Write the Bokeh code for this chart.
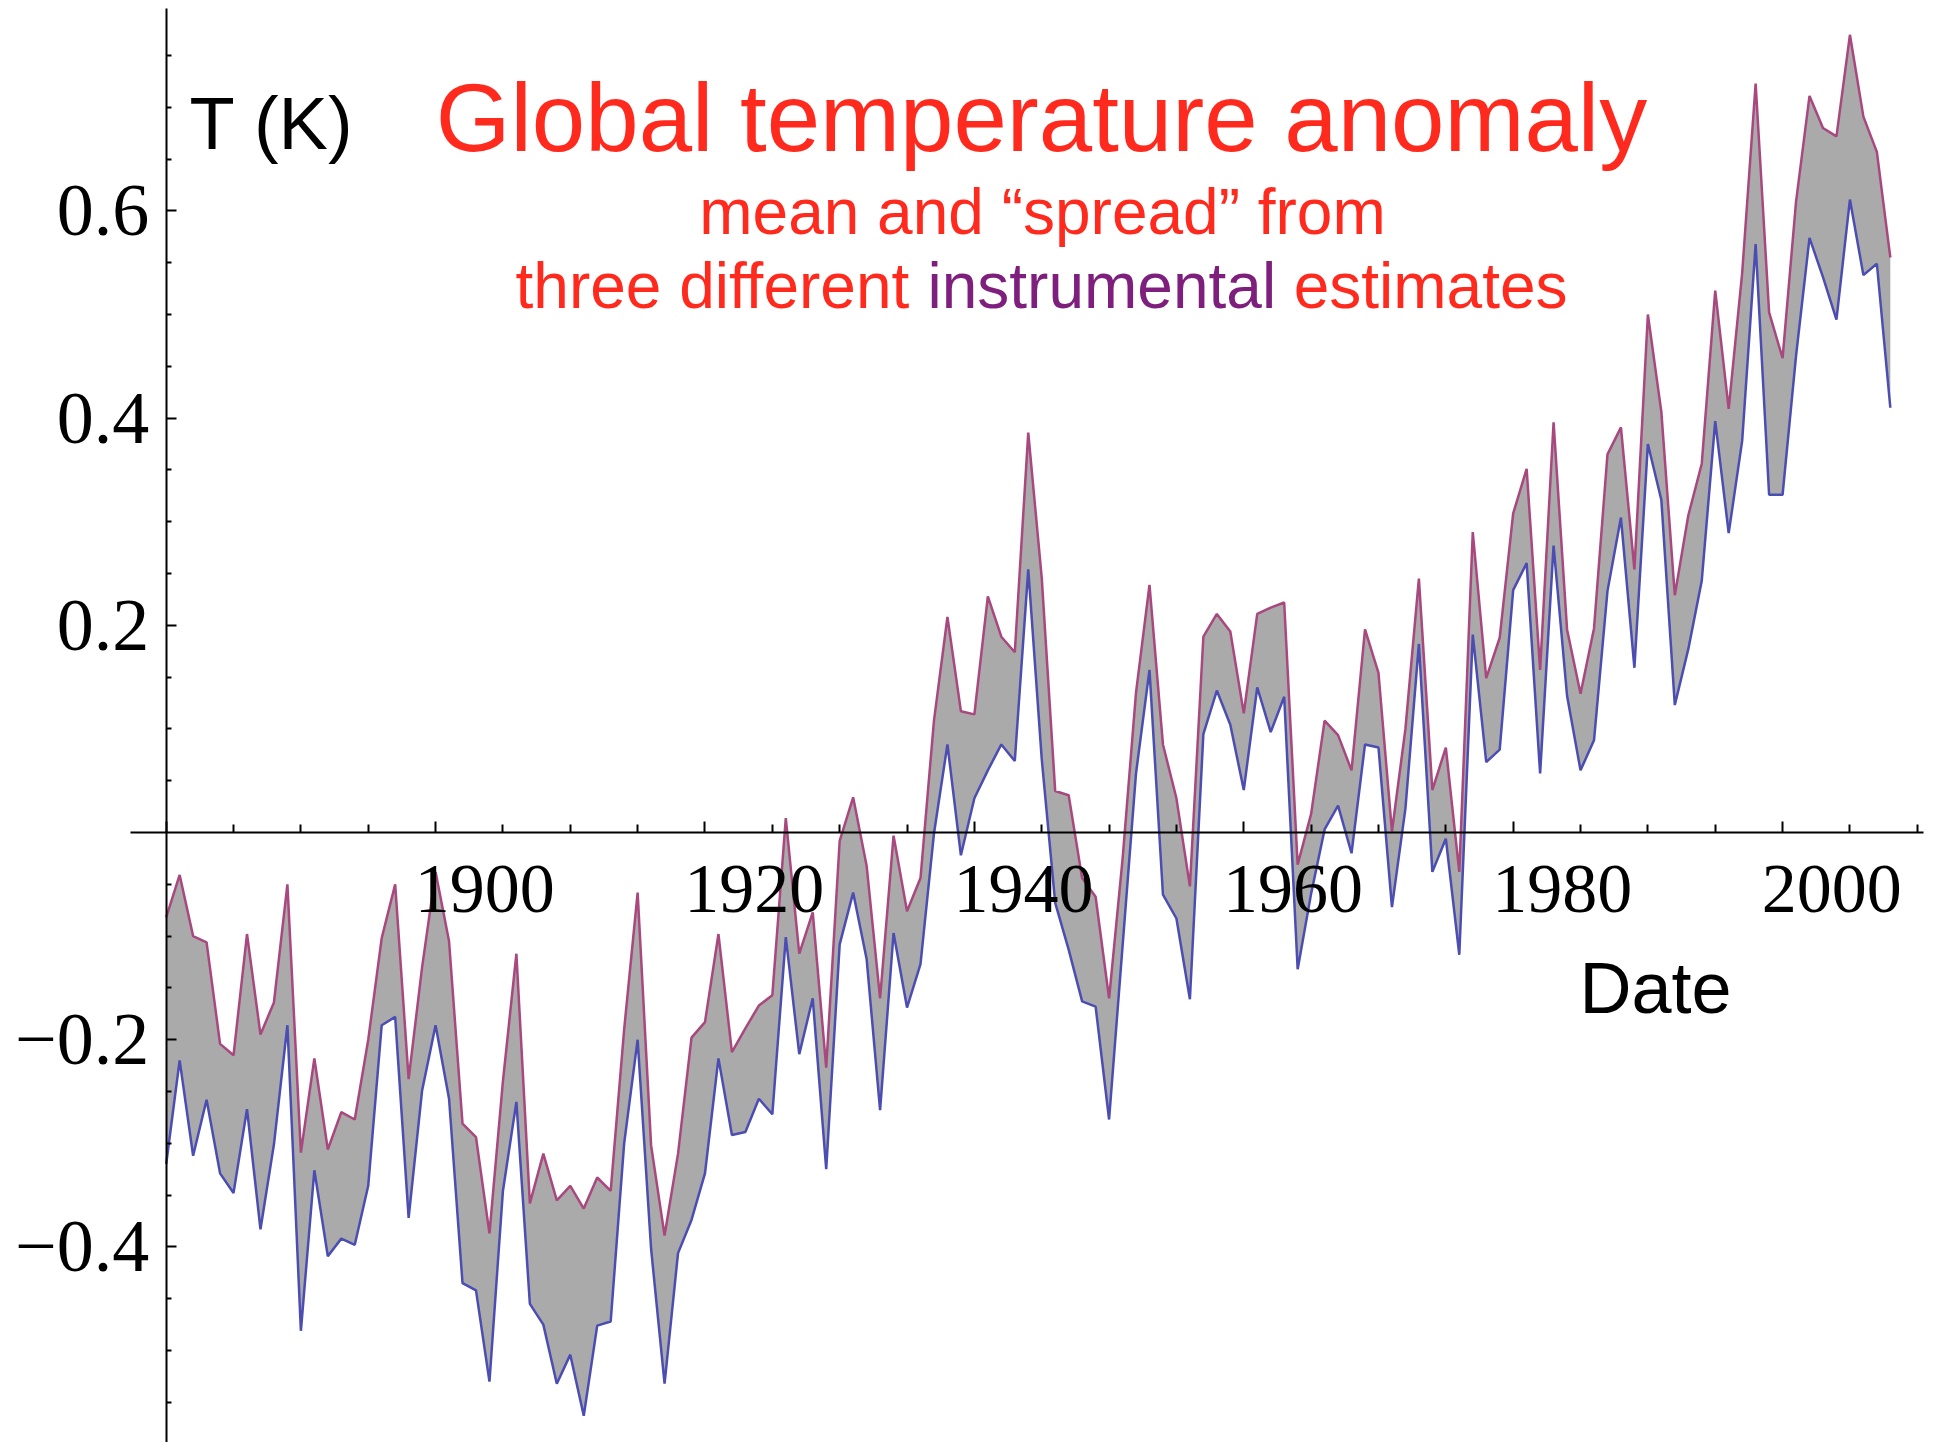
from bokeh.plotting import figure
from bokeh.models import (LinearAxis, FixedTicker, Range1d, Label,
                          CustomJSTickFormatter, ColumnDataSource)
from bokeh.embed import file_html
from bokeh.resources import INLINE

# ---------------- data ----------------
years = list(range(1880, 2009))

upper = [
    -0.082, -0.041, -0.100, -0.106, -0.204, -0.215, -0.098, -0.195, -0.164, -0.050,   # 1880s
    -0.309, -0.218, -0.306, -0.270, -0.277, -0.200, -0.102, -0.050, -0.238, -0.130,   # 1890s
    -0.038, -0.105, -0.281, -0.294, -0.387, -0.240, -0.117, -0.358, -0.310, -0.355,   # 1900s
    -0.341, -0.363, -0.333, -0.346, -0.190, -0.058, -0.302, -0.389, -0.310, -0.198,   # 1910s
    -0.183, -0.098, -0.212, -0.189, -0.167, -0.157, 0.014, -0.117, -0.077, -0.227,    # 1920s
    -0.008, 0.034, -0.032, -0.160, -0.003, -0.076, -0.044, 0.108, 0.208, 0.117,       # 1930s
    0.114, 0.228, 0.189, 0.174, 0.386, 0.246, 0.040, 0.036, -0.044, -0.062,           # 1940s
    -0.160, -0.026, 0.135, 0.239, 0.085, 0.033, -0.052, 0.189, 0.211, 0.194,          # 1950s
    0.115, 0.211, 0.217, 0.222, -0.031, 0.018, 0.108, 0.094, 0.060, 0.196,            # 1960s
    0.154, 0.001, 0.100, 0.245, 0.041, 0.082, -0.038, 0.290, 0.149, 0.188,            # 1970s
    0.308, 0.351, 0.157, 0.396, 0.196, 0.134, 0.197, 0.365, 0.391, 0.254,             # 1980s
    0.500, 0.406, 0.229, 0.306, 0.356, 0.523, 0.409, 0.540, 0.723, 0.502,             # 1990s
    0.458, 0.609, 0.711, 0.680, 0.672, 0.770, 0.691, 0.657, 0.555,                    # 2000s
]

lower = [
    -0.320, -0.220, -0.312, -0.258, -0.329, -0.348, -0.267, -0.383, -0.301, -0.186,
    -0.481, -0.326, -0.409, -0.392, -0.398, -0.341, -0.186, -0.178, -0.372, -0.249,
    -0.186, -0.257, -0.435, -0.442, -0.530, -0.346, -0.260, -0.455, -0.475, -0.532,
    -0.504, -0.563, -0.476, -0.472, -0.300, -0.200, -0.402, -0.532, -0.406, -0.374,
    -0.329, -0.218, -0.292, -0.289, -0.257, -0.272, -0.101, -0.214, -0.160, -0.325,
    -0.108, -0.058, -0.122, -0.268, -0.097, -0.169, -0.127, -0.001, 0.085, -0.022,
    0.033, 0.060, 0.085, 0.069, 0.254, 0.071, -0.068, -0.113, -0.163, -0.168,
    -0.277, -0.110, 0.057, 0.157, -0.060, -0.083, -0.161, 0.095, 0.137, 0.104,
    0.041, 0.140, 0.097, 0.131, -0.132, -0.059, 0.003, 0.026, -0.020, 0.085,
    0.082, -0.072, 0.023, 0.182, -0.038, -0.006, -0.118, 0.191, 0.068, 0.080,
    0.234, 0.260, 0.057, 0.277, 0.132, 0.060, 0.089, 0.233, 0.304, 0.159,
    0.375, 0.321, 0.123, 0.177, 0.243, 0.397, 0.289, 0.378, 0.568, 0.326,
    0.326, 0.460, 0.574, 0.536, 0.495, 0.611, 0.538, 0.549, 0.410,
]

x_major_ticks = [1880, 1900, 1920, 1940, 1960, 1980, 2000]
x_minor_ticks = [1885, 1890, 1895, 1905, 1910, 1915, 1925, 1930, 1935, 1945, 1950,
                 1955, 1965, 1970, 1975, 1985, 1990, 1995, 2005, 2010]
x_tick_labels = [1900, 1920, 1940, 1960, 1980, 2000]
y_major_ticks = [-0.4, -0.2, 0.2, 0.4, 0.6]
y_minor_ticks = [-0.55, -0.5, -0.45, -0.35, -0.3, -0.25, -0.15, -0.1, -0.05, 0.05,
                 0.1, 0.15, 0.25, 0.3, 0.35, 0.45, 0.5, 0.55, 0.65, 0.7, 0.75]

title_text = "Global temperature anomaly"
sub1_text = "mean and \u201cspread\u201d from"
sub2_a = "three different"
sub2_b = "instrumental"
sub2_c = "estimates"
y_title = "T (K)"
x_title = "Date"

# ---------------- styling ----------------
RED = "#FF2A1E"
PURPLE = "#7E1F7E"
UP_COL = "#A8487E"
LO_COL = "#4B4DB3"
FILL = "#AAAAAA"
SANS = "Liberation Sans"
SERIF = "Liberation Serif"

W, H = 1939, 1442
X0, X1 = 1867.70, 2011.65          # whole canvas is the frame
Y0, Y1 = -0.5888, 0.8031
XAX_BOUNDS = (1877.35, 2010.46)     # visible extent of the x-axis line
YAX_BOUNDS = (Y0, 0.795)
LAB_SHIFT = 3.65

p = figure(width=W, height=H, output_backend="svg", toolbar_location=None,
           x_range=Range1d(X0, X1), y_range=Range1d(Y0, Y1),
           x_axis_type=None, y_axis_type=None,
           min_border_left=0, min_border_right=0,
           min_border_top=0, min_border_bottom=0)
p.outline_line_color = None
p.background_fill_color = "white"
p.border_fill_color = "white"
p.extra_x_ranges = {"lab": Range1d(X0 - LAB_SHIFT, X1 - LAB_SHIFT)}

src = ColumnDataSource(dict(year=years, upper=upper, lower=lower))
p.varea(x="year", y1="lower", y2="upper", source=src, fill_color=FILL, fill_alpha=1.0)
p.line(x="year", y="upper", source=src, line_color=UP_COL, line_width=2.5)
p.line(x="year", y="lower", source=src, line_color=LO_COL, line_width=2.5)

# x axis (line + ticks) at y = 0
xax = LinearAxis(fixed_location=0, bounds=XAX_BOUNDS,
                 ticker=FixedTicker(ticks=x_major_ticks, minor_ticks=x_minor_ticks),
                 formatter=CustomJSTickFormatter(code="return ''"))
xax.axis_line_width = 2
xax.axis_line_color = "black"
xax.major_tick_in = 11
xax.major_tick_out = 0
xax.minor_tick_in = 8
xax.minor_tick_out = 0
xax.major_tick_line_width = 2
xax.minor_tick_line_width = 2
xax.major_label_text_font_size = "1px"
p.add_layout(xax, "below")

# x tick labels (placed as in the reference, right of their ticks)
xlab = LinearAxis(fixed_location=0, x_range_name="lab",
                  ticker=FixedTicker(ticks=x_tick_labels, minor_ticks=[]),
                  formatter=CustomJSTickFormatter(code="return tick.toFixed(0)"))
xlab.axis_line_color = None
xlab.major_tick_line_color = None
xlab.minor_tick_line_color = None
xlab.major_tick_in = 0
xlab.major_tick_out = 0
xlab.major_label_standoff = 33
xlab.major_label_text_font = SERIF
xlab.major_label_text_font_size = "70px"
xlab.major_label_text_color = "black"
p.add_layout(xlab, "below")

# y axis at x = 1880
yax = LinearAxis(fixed_location=1880, bounds=YAX_BOUNDS,
                 ticker=FixedTicker(ticks=y_major_ticks, minor_ticks=y_minor_ticks),
                 formatter=CustomJSTickFormatter(
                     code="return tick.toFixed(1).replace('-', '\\u2212')"))
yax.axis_line_width = 2
yax.axis_line_color = "black"
yax.major_tick_in = 10
yax.major_tick_out = 0
yax.minor_tick_in = 5
yax.minor_tick_out = 0
yax.major_tick_line_width = 2
yax.minor_tick_line_width = 2
yax.major_label_standoff = 17
yax.major_label_text_font = SERIF
yax.major_label_text_font_size = "74px"
yax.major_label_text_color = "black"
p.add_layout(yax, "left")

# ---------------- texts ----------------
def add_label(text, sx, sy, size, color, align="left"):
    p.add_layout(Label(x=sx, y=sy, x_units="screen", y_units="screen", text=text,
                       text_font=SANS, text_font_size=size, text_color=color,
                       text_align=align, text_baseline="alphabetic"))

add_label(y_title, 189, 1319, "74px", "black")
add_label(title_text, 1041, 1325, "96px", RED, "center")
add_label(sub1_text, 1042, 1231, "64px", RED, "center")
add_label(sub2_a, 515, 1157, "64px", RED)
add_label(sub2_b, 927, 1157, "64px", PURPLE)
add_label(sub2_c, 1567, 1157, "64px", RED, "right")
add_label(x_title, 1579, 455, "72px", "black")

open("out.html", "w").write(file_html(p, INLINE))
